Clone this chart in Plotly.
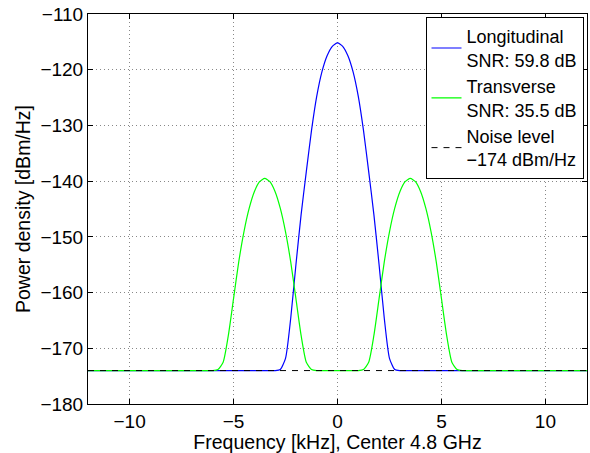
import plotly.graph_objects as go

# Data
freq_long = [-12, -3.25, -3.0, -2.75, -2.5, -2.25, -2.0, -1.75, -1.5, -1.25, -1.0, -0.75, -0.5, -0.25, 0,
             0.25, 0.5, 0.75, 1.0, 1.25, 1.5, 1.75, 2.0, 2.25, 2.5, 2.75, 3.0, 3.25, 12]
psd_long = [-174, -174, -174, -173.8, -171.8, -164.6, -155.0, -146.0, -138.3, -130.9, -124.8, -120.4, -117.5, -115.8, -115.2,
            -115.8, -117.5, -120.4, -124.8, -130.9, -138.3, -146.0, -155.0, -164.6, -171.8, -173.8, -174, -174, -174]

freq_trans = [-12, -6.25, -6.0, -5.75, -5.5, -5.25, -5.0, -4.75, -4.5, -4.25, -4.0, -3.75, -3.5,
              -3.25, -3.0, -2.75, -2.5, -2.25, -2.0, -1.75, -1.5, -1.25, -1.0, -0.75, 0,
              0.75, 1.0, 1.25, 1.5, 1.75, 2.0, 2.25, 2.5, 2.75, 3.0, 3.25, 3.5,
              3.75, 4.0, 4.25, 4.5, 4.75, 5.0, 5.25, 5.5, 5.75, 6.0, 6.25, 12]
psd_trans = [-174, -174, -174, -173.8, -172.5, -167.7, -161.1, -154.5, -149.1, -144.9, -141.9, -140.1, -139.5,
             -140.1, -141.9, -144.9, -149.1, -154.5, -161.1, -167.7, -172.5, -173.8, -174, -174, -174,
             -174, -174, -173.8, -172.5, -167.7, -161.1, -154.5, -149.1, -144.9, -141.9, -140.1, -139.5,
             -140.1, -141.9, -144.9, -149.1, -154.5, -161.1, -167.7, -172.5, -173.8, -174, -174, -174]

freq_noise = [-12, 12]
psd_noise = [-174, -174]

names = ["Longitudinal<br>SNR: 59.8 dB", "Transverse<br>SNR: 35.5 dB", "Noise level<br>\u2212174 dBm/Hz"]
x_ticks = [-10, -5, 0, 5, 10]
y_ticks = [-180, -170, -160, -150, -140, -130, -120, -110]

FONT = "Liberation Sans, Arial, Helvetica, sans-serif"

fig = go.Figure()
fig.add_trace(go.Scatter(x=freq_long, y=psd_long, mode="lines", name=names[0],
                         line=dict(color="#0000FF", width=1.2, shape="spline", smoothing=0.6)))
fig.add_trace(go.Scatter(x=freq_trans, y=psd_trans, mode="lines", name=names[1],
                         line=dict(color="#00FF00", width=1.2, shape="spline", smoothing=0.6)))
fig.add_trace(go.Scatter(x=freq_noise, y=psd_noise, mode="lines", name=names[2],
                         line=dict(color="black", width=1, dash="6px,6px")))

axis_common = dict(showline=True, linecolor="black", linewidth=1, mirror="ticks",
                   ticks="inside", ticklen=5, tickcolor="black",
                   showgrid=True, gridcolor="#888888", griddash="1px,3px", gridwidth=1,
                   zeroline=False, tickfont=dict(size=19, color="black", family=FONT))

fig.update_layout(
    width=590, height=453,
    margin=dict(l=88, r=3, t=14, b=49, autoexpand=False),
    paper_bgcolor="white", plot_bgcolor="white",
    font=dict(family=FONT, size=19, color="black"),
    xaxis=dict(range=[-12, 12], tickvals=x_ticks,
               title=dict(text="Frequency [kHz], Center 4.8 GHz", standoff=2, font=dict(size=19.5)),
               **axis_common),
    yaxis=dict(range=[-180, -110], tickvals=y_ticks,
               title=dict(text="Power density [dBm/Hz]", standoff=4, font=dict(size=19.5)),
               **axis_common),
    legend=dict(x=0.993, y=0.992, xanchor="right", yanchor="top",
                bgcolor="white", bordercolor="black", borderwidth=1,
                font=dict(size=18, family=FONT), itemwidth=30, tracegroupgap=0),
    showlegend=True,
)

fig.write_html("out.html", config={"displayModeBar": False},
               post_script="document.body.style.margin='0px';")
